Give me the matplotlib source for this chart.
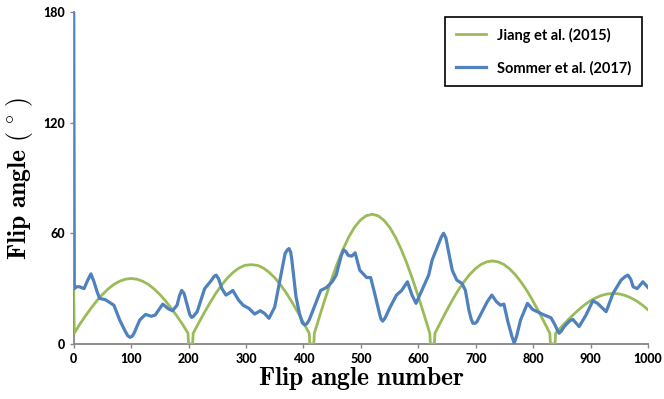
import matplotlib.pyplot as plt

plt.rcParams['mathtext.fontset'] = 'cm'

# Jiang et al. (2015)
jiang_n = [0, 1, 10, 20, 30, 40, 50, 60, 70, 80, 90, 100, 110, 120, 130, 140, 150, 160, 170, 180, 190, 199, 200, 207, 208,
           218, 228, 238, 248, 258, 268, 278, 288, 298, 309, 320, 330, 340, 350, 360, 370, 380, 390, 400, 410, 411, 418, 419,
           429, 439, 449, 459, 469, 479, 489, 499, 509, 520, 530, 540, 550, 560, 570, 580, 590, 600, 610, 620, 621, 628, 629,
           639, 649, 659, 669, 679, 689, 699, 709, 719, 729, 739, 749, 759, 769, 779, 789, 799, 809, 819, 829, 830, 838, 839,
           849, 859, 869, 879, 889, 899, 909, 919, 929, 940, 950, 960, 970, 980, 990, 1000]
jiang_fa = [30, 5.8, 10.4, 15.0, 19.3, 23.3, 26.8, 29.8, 32.3, 34.0, 35.1, 35.5, 35.1, 34.0, 32.3, 29.8, 26.8, 23.3, 19.3, 15.0, 10.4, 5.8, 0, 0, 5.8,
            11.6, 17.3, 22.7, 27.7, 32.1, 35.9, 38.9, 41.2, 42.6, 43.0, 42.6, 41.2, 38.9, 35.9, 32.1, 27.7, 22.7, 17.3, 11.6, 5.8, 0, 0, 5.8,
            15.9, 25.7, 35.1, 43.7, 51.4, 58.0, 63.3, 67.1, 69.5, 70.3, 69.5, 67.1, 63.3, 58.0, 51.4, 43.7, 35.1, 25.7, 15.9, 5.8, 0, 0, 5.8,
            11.9, 17.9, 23.6, 28.9, 33.5, 37.5, 40.7, 43.1, 44.5, 45.0, 44.5, 43.1, 40.7, 37.5, 33.5, 28.9, 23.6, 17.9, 11.9, 5.8, 0, 0, 5.8,
            9.2, 12.5, 15.6, 18.5, 21.1, 23.3, 25.0, 26.3, 27.1, 27.4, 27.1, 26.3, 25.0, 23.3, 21.1, 18.5]

# Sommer et al. (2017)
sommer_n = [0, 1, 5, 10, 18, 25, 30, 35, 40, 45, 55, 65, 70, 80, 90, 94, 98, 102, 105, 115, 125, 135, 142, 155, 165, 172,
            180, 184, 188, 192, 195, 202, 205, 208, 215, 228, 240, 244, 248, 252, 258, 265, 270, 277, 287, 295, 305, 315,
            325, 332, 340, 350, 360, 368, 372, 375, 378, 380, 387, 393, 398, 402, 406, 410, 420, 430, 440, 450, 457, 466,
            470, 474, 478, 484, 490, 498, 510, 517, 524, 533, 535, 538, 542, 551, 562, 571, 581, 589, 596, 606, 618, 624,
            632, 640, 644, 648, 651, 659, 667, 676, 682, 688, 692, 695, 699, 702, 711, 720, 728, 736, 743, 749, 756, 763,
            767, 771, 778, 790, 799, 807, 819, 831, 838, 842, 845, 849, 854, 863, 869, 880, 892, 904, 912, 927, 939, 953,
            960, 965, 970, 974, 981, 991, 1000]
sommer_fa = [180, 30, 31, 31, 30, 35, 38, 34, 29, 24.7, 24, 22, 21, 13, 6.7, 4.5, 3.6, 4.2, 5.8, 13, 16, 15, 15.7, 21.6, 19,
             18, 21, 26, 29, 27.5, 24, 16, 14.4, 14.8, 17.5, 30, 34.6, 36.5, 37.3, 35.5, 30, 26.5, 27.4, 29, 23.8, 21, 19.3,
             16.2, 18, 16.6, 13.9, 20, 36, 49, 51, 51.7, 49.5, 45, 25.6, 16.6, 11.5, 10.3, 11, 13, 21, 29, 30.6, 33.7, 37.3,
             48, 51, 50, 48, 47.6, 49.4, 40, 36, 36, 27.4, 15.7, 13.5, 12.4, 14, 20, 26.5, 29, 33.7, 26.5, 22, 29, 37.3, 45.4,
             51.7, 58, 60, 57.5, 52.6, 40, 34.6, 32.8, 29, 18.4, 13.5, 11.2, 11.2, 12, 17.5, 22.9, 26.5, 22.9, 21, 21.6, 12,
             4, 0.4, 4, 13, 22, 18.7, 17.5, 15.7, 14.2, 10.3, 7.5, 5.8, 7, 9.4, 12.4, 13.3, 9.4, 15.7, 23.4, 22, 17.5, 27.4,
             34.6, 36.5, 37.3, 35, 31, 30, 33.7, 30.6]

fig = plt.figure(figsize=(6.64, 3.99), dpi=100)
ax = fig.add_axes([0.111, 0.138, 0.865, 0.832])

ax.plot(jiang_n, jiang_fa, color='#9BBB59', linewidth=2.0, label='Jiang et al. (2015)',
        zorder=3, solid_joinstyle='round')
ax.plot(sommer_n, sommer_fa, color='#4F81BD', linewidth=2.3, label='Sommer et al. (2017)',
        zorder=3, solid_joinstyle='round')

ax.set_xlim(0, 1000)
ax.set_ylim(0, 180)
ax.set_xticks(range(0, 1001, 100))
ax.set_yticks([0, 60, 120, 180])

for s in ['top', 'right']:
    ax.spines[s].set_visible(False)
for s in ['left', 'bottom']:
    ax.spines[s].set_color('#868686')
    ax.spines[s].set_linewidth(1.3)
    ax.spines[s].set_zorder(2)
ax.tick_params(colors='#868686', length=3, width=1, labelcolor='black')
for lab in ax.get_xticklabels() + ax.get_yticklabels():
    lab.set_family('Lato')
    lab.set_fontweight('black')
    lab.set_fontsize(9)

ax.set_xlabel(r'$\mathbf{Flip\ angle\ number}$', fontsize=18.5, labelpad=0)
ax.set_ylabel(r'$\mathbf{Flip\ angle\ (\,^\circ\,)}$', fontsize=18.5, labelpad=6)

leg = ax.legend(loc='upper right', bbox_to_anchor=(0.995, 0.995), fancybox=False, framealpha=1,
                edgecolor='black', borderpad=0.75, labelspacing=1.25, handlelength=2.1, handletextpad=0.75,
                borderaxespad=0.2, prop={'family': 'Lato', 'weight': 'bold', 'size': 10.5})
leg.get_frame().set_linewidth(1.2)

fig.savefig('out.png', dpi=100)
